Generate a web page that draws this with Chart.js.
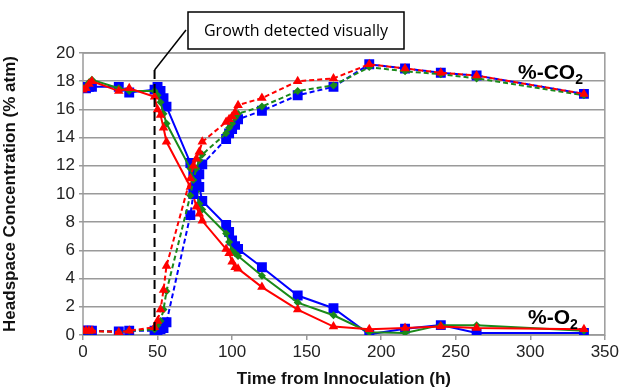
<!DOCTYPE html>
<html>
<head>
<meta charset="utf-8">
<script src="https://cdn.jsdelivr.net/npm/chart.js@4"></script>
<style>
  html, body { margin: 0; padding: 0; background: #fff; }
  #wrap { width: 621px; height: 390px; position: relative; }
</style>
</head>
<body>
<div id="wrap"><canvas id="chart" width="621" height="390"></canvas></div>
<script>
const hours = [0, 2, 4, 6, 24, 31, 48, 50, 52, 54, 56, 72, 74, 76, 78, 80, 96, 98, 100, 102, 104, 120, 144, 168, 192, 216, 240, 264, 336];

const redO2 = [17.4, 17.5, 17.8, 18.0, 17.3, 17.5, 16.9, 16.0, 15.6, 14.7, 13.7, 10.5, 9.9, 9.1, 8.6, 8.1, 6.1, 5.8, 5.2, 4.8, 4.7, 3.4, 1.8, 0.6, 0.4, 0.5, 0.6, 0.5, 0.4];
const greenO2 = [17.5, 17.6, 17.9, 18.1, 17.5, 17.3, 17.3, 17.0, 16.5, 15.7, 15.0, 11.8, 11.0, 10.2, 9.3, 8.9, 7.2, 6.6, 6.0, 5.8, 5.6, 4.2, 2.3, 1.4, 0.2, 0.15, 0.7, 0.7, 0.3];
const blueO2 = [17.6, 17.5, 17.6, 17.6, 17.6, 17.2, 17.4, 17.6, 17.3, 16.8, 16.2, 12.2, 11.6, 10.8, 10.5, 9.5, 7.8, 7.3, 6.7, 6.3, 6.1, 4.8, 2.8, 1.9, 0.05, 0.45, 0.7, 0.15, 0.15];

const redCO2 = [0.3, 0.3, 0.3, 0.3, 0.2, 0.3, 0.55, 1.0, 1.8, 3.2, 4.9, 11.1, 12.0, 12.5, 13.0, 13.7, 15.1, 15.3, 15.5, 15.8, 16.3, 16.8, 18.0, 18.2, 19.2, 18.9, 18.6, 18.4, 17.1];
const greenCO2 = [0.3, 0.3, 0.3, 0.3, 0.2, 0.3, 0.4, 0.7, 1.0, 1.8, 3.1, 9.9, 11.0, 11.8, 12.4, 12.8, 14.3, 14.7, 15.0, 15.4, 15.7, 16.2, 17.3, 17.7, 19.0, 18.7, 18.5, 18.2, 17.0];
const blueCO2 = [0.3, 0.3, 0.3, 0.3, 0.25, 0.3, 0.3, 0.35, 0.4, 0.5, 0.9, 8.5, 10.0, 10.6, 11.4, 12.1, 13.9, 14.3, 14.6, 14.9, 15.3, 15.9, 17.0, 17.6, 19.2, 18.9, 18.6, 18.4, 17.1];

const xTicks = [0, 50, 100, 150, 200, 250, 300, 350];
const growthHour = 48;
const growthLabel = 'Growth detected visually';

const RED = '#ff0000', GREEN = '#1a8a1a', BLUE = '#0000ff';
const FONT = '"Liberation Sans", Arial, sans-serif';

function pts(vals) {
  return hours.map((h, i) => ({ x: h, y: vals[i] }));
}

function series(label, vals, color, style, radius, dashed) {
  return {
    label,
    data: pts(vals),
    showLine: true,
    borderColor: color,
    backgroundColor: color,
    borderWidth: 2,
    borderDash: dashed ? [5, 3] : [],
    pointStyle: style,
    pointRadius: radius,
    pointBorderWidth: 0,
    tension: 0
  };
}

const annotations = {
  id: 'annotations',
  afterDatasetsDraw(chart) {
    const { ctx, scales: { x, y } } = chart;
    const gx = x.getPixelForValue(growthHour);
    ctx.save();
    // vertical dashed marker
    ctx.strokeStyle = '#000';
    ctx.lineWidth = 2;
    ctx.setLineDash([9, 5]);
    ctx.beginPath();
    ctx.moveTo(gx, 70);
    ctx.lineTo(gx, y.bottom);
    ctx.stroke();
    ctx.setLineDash([]);
    // leader line
    ctx.lineWidth = 1.5;
    ctx.beginPath();
    ctx.moveTo(gx, 70);
    ctx.lineTo(186, 30);
    ctx.stroke();
    // box
    ctx.fillStyle = '#fff';
    ctx.fillRect(188, 12, 216, 37);
    ctx.strokeRect(188, 12, 216, 37);
    ctx.fillStyle = '#000';
    ctx.font = '16px "Open Sans", sans-serif';
    ctx.textAlign = 'center';
    ctx.textBaseline = 'middle';
    ctx.fillText(growthLabel, 296, 31);
    // series labels
    ctx.textAlign = 'left';
    ctx.textBaseline = 'alphabetic';
    ctx.font = 'bold 21px ' + FONT;
    ctx.fillText('%-CO', 518, 79);
    let w = ctx.measureText('%-CO').width;
    ctx.font = 'bold 14px ' + FONT;
    ctx.fillText('2', 518 + w, 84);
    ctx.font = 'bold 21px ' + FONT;
    ctx.fillText('%-O', 528, 324);
    w = ctx.measureText('%-O').width;
    ctx.font = 'bold 14px ' + FONT;
    ctx.fillText('2', 528 + w, 329);
    ctx.restore();
  }
};

const plotBorder = {
  id: 'plotBorder',
  beforeDatasetsDraw(chart) {
    const { ctx, chartArea: a } = chart;
    ctx.save();
    ctx.strokeStyle = '#9a9a9a';
    ctx.lineWidth = 1.5;
    ctx.strokeRect(a.left, a.top, a.right - a.left, a.bottom - a.top);
    ctx.restore();
  }
};

new Chart(document.getElementById('chart'), {
  type: 'scatter',
  data: {
    datasets: [
      series('Red CO2', redCO2, RED, 'triangle', 5.5, true),
      series('Green CO2', greenCO2, GREEN, 'rectRot', 4, true),
      series('Blue CO2', blueCO2, BLUE, 'rect', 7, true),
      series('Red O2', redO2, RED, 'triangle', 5.5, false),
      series('Green O2', greenO2, GREEN, 'rectRot', 4, false),
      series('Blue O2', blueO2, BLUE, 'rect', 7, false)
    ]
  },
  options: {
    responsive: false,
    animation: false,
    layout: { padding: { top: 53, right: 15, left: 0, bottom: 0 } },
    plugins: { legend: { display: false }, tooltip: { enabled: false } },
    scales: {
      x: {
        type: 'linear',
        min: 0,
        max: 350,
        afterBuildTicks(axis) { axis.ticks = xTicks.map(v => ({ value: v })); },
        afterFit(axis) { axis.height = 55; },
        grid: { display: true, drawOnChartArea: false, drawTicks: true, tickLength: 5, color: '#9a9a9a', lineWidth: 1.5 },
        border: { display: false },
        ticks: { color: '#222', font: { family: FONT, size: 17 }, padding: 2, maxRotation: 0 },
        title: { display: true, text: 'Time from Innoculation (h)', color: '#111', font: { family: FONT, size: 17, weight: 'bold' }, padding: { top: 0, bottom: 0 } }
      },
      y: {
        min: 0,
        max: 20,
        ticks: { stepSize: 2, color: '#222', font: { family: FONT, size: 17 }, padding: 4 },
        afterFit(axis) { axis.width = 83; },
        grid: { color: '#9a9a9a', lineWidth: 1.5, tickLength: 4 },
        border: { display: false },
        title: { display: true, text: 'Headspace Concentration (% atm)', color: '#111', font: { family: FONT, size: 17, weight: 'bold' }, padding: { top: 0, bottom: 4 } }
      }
    }
  },
  plugins: [plotBorder, annotations]
});
</script>
</body>
</html>
